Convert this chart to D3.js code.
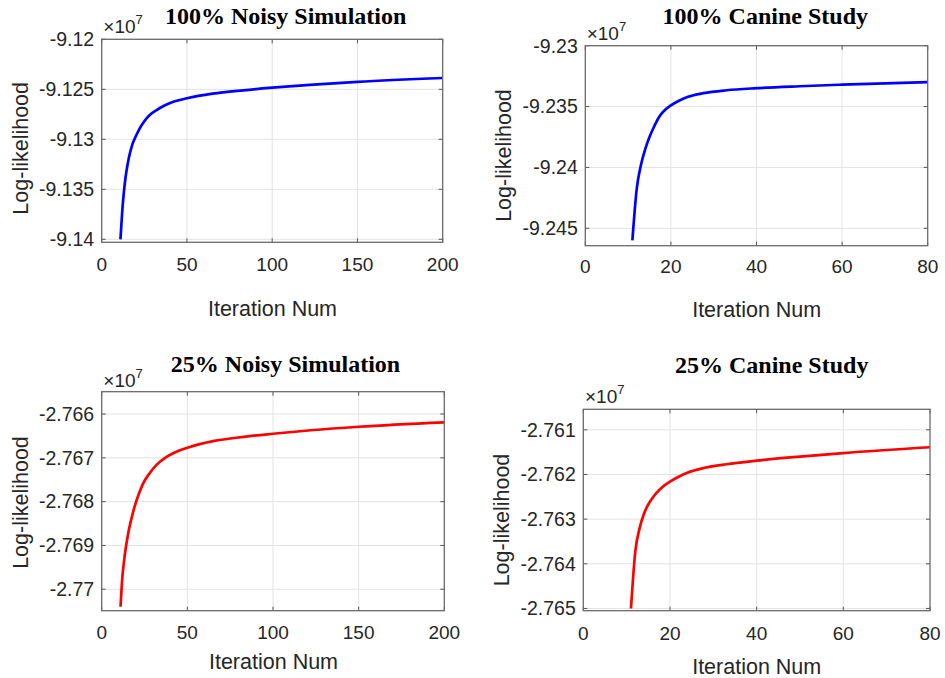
<!DOCTYPE html>
<html>
<head>
<meta charset="utf-8">
<script src="https://cdn.jsdelivr.net/npm/d3@7"></script>
<style>
  html, body { margin: 0; padding: 0; background: #fff; }
  svg { display: block; }
</style>
</head>
<body>
<svg id="chart" width="945" height="678"></svg>
<script>
// ---------------- DATA (values in units of 1e7) ----------------
const titles = ["100% Noisy Simulation", "100% Canine Study", "25% Noisy Simulation", "25% Canine Study"];
const xLabel = "Iteration Num";
const yLabel = "Log-likelihood";

const iters1 = [11, 12, 13, 14, 15, 16, 18, 20, 22, 25, 28, 32, 36, 42, 50, 65, 83, 100, 122, 150, 200];
const vals1  = [-9.1400, -9.1373, -9.1353, -9.1338, -9.1327, -9.1318, -9.1305, -9.1297, -9.1290, -9.1282, -9.1276, -9.1271, -9.1267, -9.12625, -9.1259, -9.12544, -9.1251, -9.12484, -9.12455, -9.12425, -9.12387];

const iters2 = [11, 12, 13, 14, 15, 16, 17, 18, 20, 22, 24, 27.6, 33, 40, 50, 60, 80];
const vals2  = [-9.2460, -9.2418, -9.2398, -9.2385, -9.2375, -9.2367, -9.2360, -9.2355, -9.2349, -9.2345, -9.2342, -9.2339, -9.23366, -9.23349, -9.23333, -9.2332, -9.2330];

const iters3 = [11, 12, 13, 14, 15, 16, 18, 20, 22, 24, 28, 32, 37, 42, 50, 65, 83, 100, 122, 150, 200];
const vals3  = [-2.77040, -2.76975, -2.76937, -2.76907, -2.76883, -2.76862, -2.76829, -2.76801, -2.76779, -2.76760, -2.76735, -2.76716, -2.76700, -2.76689, -2.76677, -2.76662, -2.76652, -2.76645, -2.76637, -2.76629, -2.76619];

const iters4 = [11, 12, 13, 14, 15, 16, 17, 18, 20, 22, 24, 28, 33, 40, 50, 60, 80];
const vals4  = [-2.76500, -2.76372, -2.76320, -2.76288, -2.76267, -2.76252, -2.76240, -2.76230, -2.76216, -2.76205, -2.76196, -2.76185, -2.76177, -2.76169, -2.76160, -2.76152, -2.76139];

const xDomain1 = [0, 200], xDomain2 = [0, 80], xDomain3 = [0, 200], xDomain4 = [0, 80];
const yDomain1 = [-9.1403, -9.12];
const yDomain2 = [-9.24643, -9.23];
const yDomain3 = [-2.77049, -2.76549];
const yDomain4 = [-2.76505, -2.76054];

const xTicks1 = [0, 50, 100, 150, 200];
const xTicks2 = [0, 20, 40, 60, 80];
const yTicks1 = [-9.14, -9.135, -9.13, -9.125, -9.12];
const yTickLabels1 = ["-9.14", "-9.135", "-9.13", "-9.125", "-9.12"];
const yTicks2 = [-9.245, -9.24, -9.235, -9.23];
const yTickLabels2 = ["-9.245", "-9.24", "-9.235", "-9.23"];
const yTicks3 = [-2.77, -2.769, -2.768, -2.767, -2.766];
const yTickLabels3 = ["-2.77", "-2.769", "-2.768", "-2.767", "-2.766"];
const yTicks4 = [-2.765, -2.764, -2.763, -2.762, -2.761];
const yTickLabels4 = ["-2.765", "-2.764", "-2.763", "-2.762", "-2.761"];
const exponentLabel = "7";

// ---------------- LAYOUT ----------------
const panels = [
  { title: titles[0], iters: iters1, vals: vals1, xd: xDomain1, yd: yDomain1, xt: xTicks1, yt: yTicks1, ytl: yTickLabels1, color: "#0000ff",
    box: { l: 101.7, t: 39.3, r: 442.7, b: 242.3 }, titleXY: [285.7, 23.5], expXY: [103.3, 33.3],
    xTickY: 270.7, xLabY: 315.5, xLabX: 272.5, yLabXY: [20.5, 148.3] },
  { title: titles[1], iters: iters2, vals: vals2, xd: xDomain2, yd: yDomain2, xt: xTicks2, yt: yTicks2, ytl: yTickLabels2, color: "#0000ff",
    box: { l: 585.3, t: 45.7, r: 927.7, b: 245.7 }, titleXY: [765.3, 23.5], expXY: [586.7, 40],
    xTickY: 273.4, xLabY: 316.5, xLabX: 756.7, yLabXY: [503.3, 155.5] },
  { title: titles[2], iters: iters3, vals: vals3, xd: xDomain3, yd: yDomain3, xt: xTicks1, yt: yTicks3, ytl: yTickLabels3, color: "#ff0000",
    box: { l: 101.7, t: 391.7, r: 444.3, b: 610.7 }, titleXY: [285.5, 371.7], expXY: [103.3, 386.7],
    xTickY: 639.4, xLabY: 669.2, xLabX: 273.5, yLabXY: [20.5, 502.5] },
  { title: titles[3], iters: iters4, vals: vals4, xd: xDomain4, yd: yDomain4, xt: xTicks2, yt: yTicks4, ytl: yTickLabels4, color: "#ff0000",
    box: { l: 583.3, t: 409.3, r: 930, b: 610.7 }, titleXY: [771.7, 373.3], expXY: [585, 402.7],
    xTickY: 640, xLabY: 674.2, xLabX: 756.7, yLabXY: [501.7, 520] }
];

const svg = d3.select("#chart");
const sans = "'Liberation Sans', Arial, Helvetica, sans-serif";
const serif = "'Liberation Serif', 'Times New Roman', serif";
const textColor = "#262626";
const tickLen = 4;

panels.forEach((p, i) => {
  const b = p.box;
  const x = d3.scaleLinear().domain(p.xd).range([b.l, b.r]);
  const y = d3.scaleLinear().domain(p.yd).range([b.b, b.t]);
  const g = svg.append("g");

  svg.append("clipPath").attr("id", "clip" + i)
    .append("rect").attr("x", b.l).attr("y", b.t).attr("width", b.r - b.l).attr("height", b.b - b.t);

  // grid
  const grid = g.append("g").attr("stroke", "#e3e3e3").attr("stroke-width", 1);
  p.xt.forEach(v => {
    if (v === p.xd[0] || v === p.xd[1]) return;
    grid.append("line").attr("x1", x(v)).attr("x2", x(v)).attr("y1", b.t).attr("y2", b.b);
  });
  p.yt.forEach(v => {
    grid.append("line").attr("x1", b.l).attr("x2", b.r).attr("y1", y(v)).attr("y2", y(v));
  });

  // line
  const line = d3.line().x((d, k) => x(p.iters[k])).y(d => y(d)).curve(d3.curveMonotoneX);
  g.append("path").datum(p.vals)
    .attr("clip-path", `url(#clip${i})`)
    .attr("d", line)
    .attr("fill", "none")
    .attr("stroke", p.color)
    .attr("stroke-width", 2.7)
    .attr("stroke-linejoin", "round");

  // inward ticks on all four sides
  const ticks = g.append("g").attr("stroke", "#555").attr("stroke-width", 1);
  p.xt.forEach(v => {
    ticks.append("line").attr("x1", x(v)).attr("x2", x(v)).attr("y1", b.b).attr("y2", b.b - tickLen);
    ticks.append("line").attr("x1", x(v)).attr("x2", x(v)).attr("y1", b.t).attr("y2", b.t + tickLen);
  });
  p.yt.forEach(v => {
    ticks.append("line").attr("x1", b.l).attr("x2", b.l + tickLen).attr("y1", y(v)).attr("y2", y(v));
    ticks.append("line").attr("x1", b.r).attr("x2", b.r - tickLen).attr("y1", y(v)).attr("y2", y(v));
  });

  // box
  g.append("rect").attr("x", b.l).attr("y", b.t).attr("width", b.r - b.l).attr("height", b.b - b.t)
    .attr("fill", "none").attr("stroke", "#6a6a6a").attr("stroke-width", 1.3);

  // x tick labels
  p.xt.forEach(v => {
    g.append("text").attr("x", x(v)).attr("y", p.xTickY)
      .attr("text-anchor", "middle").attr("font-family", sans).attr("font-size", 19)
      .attr("fill", textColor).text(v);
  });
  // y tick labels
  p.yt.forEach((v, k) => {
    g.append("text").attr("x", b.l - 7.5).attr("y", y(v)).attr("dy", "0.35em")
      .attr("text-anchor", "end").attr("font-family", sans).attr("font-size", 19.5)
      .attr("fill", textColor).text(p.ytl[k]);
  });

  // exponent label ×10^7
  const ex = g.append("text").attr("x", p.expXY[0]).attr("y", p.expXY[1])
    .attr("font-family", sans).attr("font-size", 19).attr("fill", textColor);
  ex.append("tspan").text("×10");
  ex.append("tspan").attr("font-size", 13).attr("dy", -9).text(exponentLabel);

  // axis labels
  g.append("text").attr("x", p.xLabX).attr("y", p.xLabY)
    .attr("text-anchor", "middle").attr("font-family", sans).attr("font-size", 21.5)
    .attr("fill", textColor).text(xLabel);
  g.append("text")
    .attr("transform", `translate(${p.yLabXY[0]},${p.yLabXY[1]}) rotate(-90)`)
    .attr("text-anchor", "middle").attr("dy", "0.35em")
    .attr("font-family", sans).attr("font-size", 21.5)
    .attr("fill", textColor).text(yLabel);

  // title
  g.append("text").attr("x", p.titleXY[0]).attr("y", p.titleXY[1])
    .attr("text-anchor", "middle").attr("font-family", serif).attr("font-weight", "bold")
    .attr("font-size", 24).attr("fill", "#000").text(p.title);
});
</script>
</body>
</html>
